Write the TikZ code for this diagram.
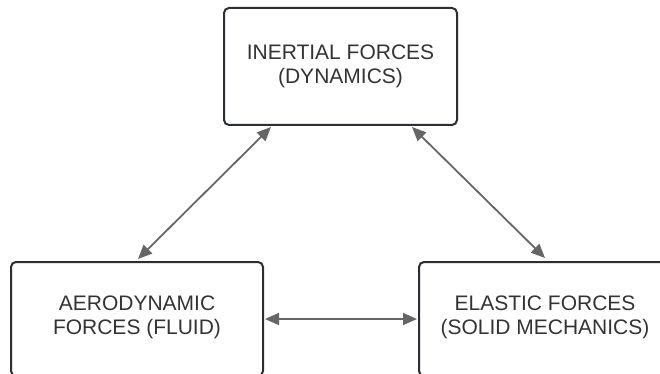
\documentclass[tikz,border=0pt]{standalone}
\usepackage{fontspec}
\setmainfont{Liberation Sans}
\usetikzlibrary{arrows.meta}
\definecolor{boxline}{HTML}{2B2E33}
\definecolor{arrowgray}{HTML}{666666}
\definecolor{textgray}{HTML}{333333}
\begin{document}
\begin{tikzpicture}[x=1pt,y=-1pt,
  forcebox/.style={draw=boxline, line width=2pt, rounded corners=5pt, inner sep=0pt, outer sep=1pt},
  forcelabel/.style={anchor=north, align=center, text=textgray, inner sep=0pt, font=\fontsize{21}{23.5}\selectfont},
  link/.style={draw=arrowgray, line width=1.8pt, {Triangle[length=14pt,width=12pt]}-{Triangle[length=14pt,width=12pt]}}]
\useasboundingbox (0,0) rectangle (660,374);
\clip (0,0) rectangle (660,374);
\node[forcebox, minimum width=233pt, minimum height=117pt] (inertial) at (340.5,66.5) {};
\node[forcebox, minimum width=252pt, minimum height=114pt] (aero) at (137,319) {};
\node[forcebox, minimum width=252pt, minimum height=114pt] (elastic) at (545,319) {};
\node[forcelabel] (inertialtext) at (340.5,45) {INERTIAL FORCES\\(DYNAMICS)};
\node[forcelabel] (aerotext) at (137,296) {AERODYNAMIC\\FORCES (FLUID)};
\node[forcelabel] (elastictext) at (545,296) {ELASTIC FORCES\\(SOLID MECHANICS)};
\draw[link] ([xshift=1pt,yshift=2pt]aero.north) -- ([xshift=48pt,yshift=-1pt]inertial.south west);
\draw[link] ([xshift=-46pt,yshift=-1pt]inertial.south east) -- ([yshift=3pt]elastic.north);
\draw[link] ([xshift=1pt]aero.east) -- ([xshift=-1pt]elastic.west);
\end{tikzpicture}
\end{document}
